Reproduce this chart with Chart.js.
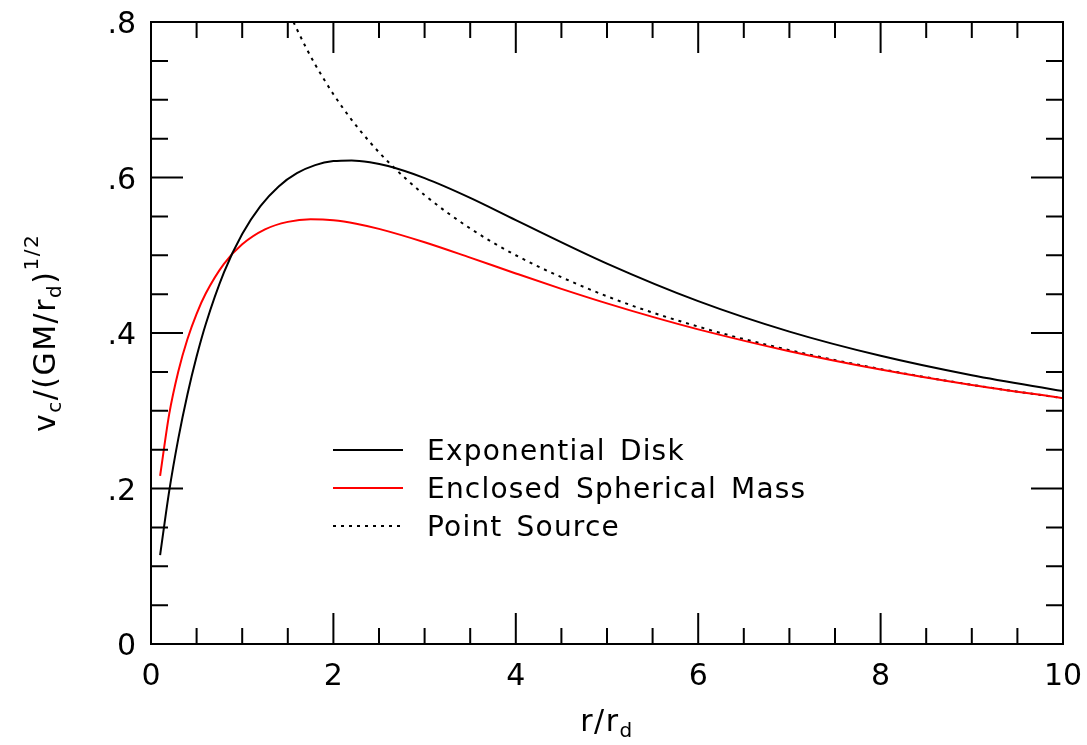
<!DOCTYPE html>
<html>
<head>
<meta charset="utf-8">
<script src="https://cdn.jsdelivr.net/npm/chart.js@4.4.1/dist/chart.umd.min.js"></script>
<style>
body{margin:0;background:#fff}
#wrap{width:1087px;height:745px}
</style>
</head>
<body>
<div id="wrap"><canvas id="curva" width="1087" height="745"></canvas></div>
<script>
// raio em unidades de r_d, velocidade em unidades de (GM/r_d)^1/2
const discoR = [0.1,0.2,0.3,0.4,0.5,0.6,0.8,1.0,1.2,1.4,1.6,1.8,2.0,2.2,2.4,2.6,3.0,3.5,4.0,5.0,6.0,7.0,8.0,9.0,10.0];
const discoV = [0.1144,0.1970,0.2645,0.3213,0.3697,0.4113,0.4780,0.5272,0.5631,0.5885,0.6055,0.6159,0.6211,0.6220,0.6196,0.6147,0.5992,0.5738,0.5452,0.4893,0.4410,0.4018,0.3707,0.3457,0.3253];

const esferaR = [0.1,0.2,0.3,0.4,0.5,0.6,0.8,1.0,1.25,1.5,1.75,2.0,2.25,2.5,3.0,3.5,4.0,4.5,5.0,5.5,6.0,7.0,8.0,9.0,10.0];
const esferaV = [0.2163,0.2960,0.3509,0.3923,0.4247,0.4507,0.4889,0.5140,0.5332,0.5429,0.5462,0.5450,0.5406,0.5339,0.5167,0.4969,0.4766,0.4568,0.4381,0.4207,0.4047,0.3766,0.3530,0.3331,0.3162];

const pontoR = [1.5625,1.6,1.7,1.8,2.0,2.2,2.4,2.6,3.0,3.5,4.0,5.0,6.0,7.0,8.0,9.0,10.0];
const pontoV = [0.8000,0.7906,0.7670,0.7454,0.7071,0.6742,0.6455,0.6202,0.5774,0.5345,0.5000,0.4472,0.4082,0.3780,0.3536,0.3333,0.3162];

const xTicks = [0,2,4,6,8,10];
const xTickLabels = ["0","2","4","6","8","10"];
const yTicks = [0,0.2,0.4,0.6,0.8];
const yTickLabels = ["0",".2",".4",".6",".8"];
const nomes = ["Exponential Disk","Enclosed Spherical Mass","Point Source"];

const FONTE = '"DejaVu Sans", sans-serif';

function pares(rs, vs){
  return rs.map((r,i)=>({x:r, y:vs[i]}));
}

// desenha texto com sub/sobrescritos, pedaço por pedaço
function composto(ctx, partes, x, y){
  let total = 0;
  partes.forEach(p=>{
    ctx.font = p.s + "px " + FONTE;
    p.w = ctx.measureText(p.t).width;
    total += p.w;
  });
  let cx = x - total/2;
  partes.forEach(p=>{
    ctx.font = p.s + "px " + FONTE;
    ctx.fillText(p.t, cx, y + p.dy);
    cx += p.w;
  });
}

const moldura = {
  id:"moldura",
  afterDraw(chart){
    const ctx = chart.ctx;
    const a = chart.chartArea;
    const sx = chart.scales.x, sy = chart.scales.y;
    ctx.save();
    ctx.strokeStyle = "#000";
    ctx.fillStyle = "#000";
    ctx.lineWidth = 2;
    ctx.setLineDash([]);
    ctx.strokeRect(a.left, a.top, a.right - a.left, a.bottom - a.top);

    // marcas para dentro, nos quatro lados
    ctx.beginPath();
    for(let i=0;i<=20;i++){
      const v = i*0.5;
      const L = (i%4===0) ? 31 : 16;
      const px = sx.getPixelForValue(v);
      ctx.moveTo(px, a.bottom); ctx.lineTo(px, a.bottom - L);
      ctx.moveTo(px, a.top); ctx.lineTo(px, a.top + L);
    }
    for(let i=0;i<=16;i++){
      const v = i*0.05;
      const L = (i%4===0) ? 32 : 17;
      const py = sy.getPixelForValue(v);
      ctx.moveTo(a.left, py); ctx.lineTo(a.left + L, py);
      ctx.moveTo(a.right, py); ctx.lineTo(a.right - L, py);
    }
    ctx.stroke();

    // rótulos dos eixos
    ctx.font = "30px " + FONTE;
    ctx.textAlign = "center";
    ctx.textBaseline = "alphabetic";
    xTicks.forEach((v,i)=>{
      ctx.fillText(xTickLabels[i], sx.getPixelForValue(v), 685);
    });
    ctx.textAlign = "right";
    yTicks.forEach((v,i)=>{
      ctx.fillText(yTickLabels[i], 136, sy.getPixelForValue(v) + 11);
    });

    // títulos
    ctx.textAlign = "left";
    ctx.letterSpacing = "1.5px";
    composto(ctx, [
      {t:"r/r", s:30, dy:0},
      {t:"d", s:20, dy:6}
    ], (a.left + a.right)/2, 731);

    ctx.save();
    ctx.translate(55, (a.top + a.bottom)/2);
    ctx.rotate(-Math.PI/2);
    composto(ctx, [
      {t:"v", s:30, dy:0},
      {t:"c", s:20, dy:6},
      {t:"/(GM/r", s:30, dy:0},
      {t:"d", s:20, dy:6},
      {t:")", s:30, dy:0},
      {t:"1/2", s:20, dy:-17}
    ], 0, 0);
    ctx.restore();

    // legenda
    const estilos = chart.data.datasets;
    ctx.font = "28px " + FONTE;
    ctx.letterSpacing = "1.2px";
    ctx.wordSpacing = "4px";
    nomes.forEach((n,i)=>{
      const base = 460 + i*38;
      const ds = estilos[i];
      ctx.strokeStyle = ds.borderColor;
      ctx.lineWidth = 2;
      ctx.setLineDash(ds.borderDash || []);
      ctx.beginPath();
      ctx.moveTo(333, base - 10);
      ctx.lineTo(403, base - 10);
      ctx.stroke();
      ctx.fillText(n, 427, base);
    });
    ctx.restore();
  }
};

new Chart(document.getElementById("curva"), {
  type:"line",
  data:{
    datasets:[
      {label:nomes[0], data:pares(discoR,discoV), borderColor:"#000000", borderWidth:2,
       pointRadius:0, cubicInterpolationMode:"monotone", fill:false},
      {label:nomes[1], data:pares(esferaR,esferaV), borderColor:"#ff0000", borderWidth:2,
       pointRadius:0, cubicInterpolationMode:"monotone", fill:false},
      {label:nomes[2], data:pares(pontoR,pontoV), borderColor:"#000000", borderWidth:2,
       borderDash:[3,5], pointRadius:0, cubicInterpolationMode:"monotone", fill:false}
    ]
  },
  options:{
    responsive:false,
    animation:false,
    devicePixelRatio:1,
    layout:{padding:{left:151, top:22, right:24, bottom:101}},
    plugins:{legend:{display:false}, tooltip:{enabled:false}},
    scales:{
      x:{type:"linear", min:0, max:10, display:false},
      y:{type:"linear", min:0, max:0.8, display:false}
    }
  },
  plugins:[moldura]
});
</script>
</body>
</html>
